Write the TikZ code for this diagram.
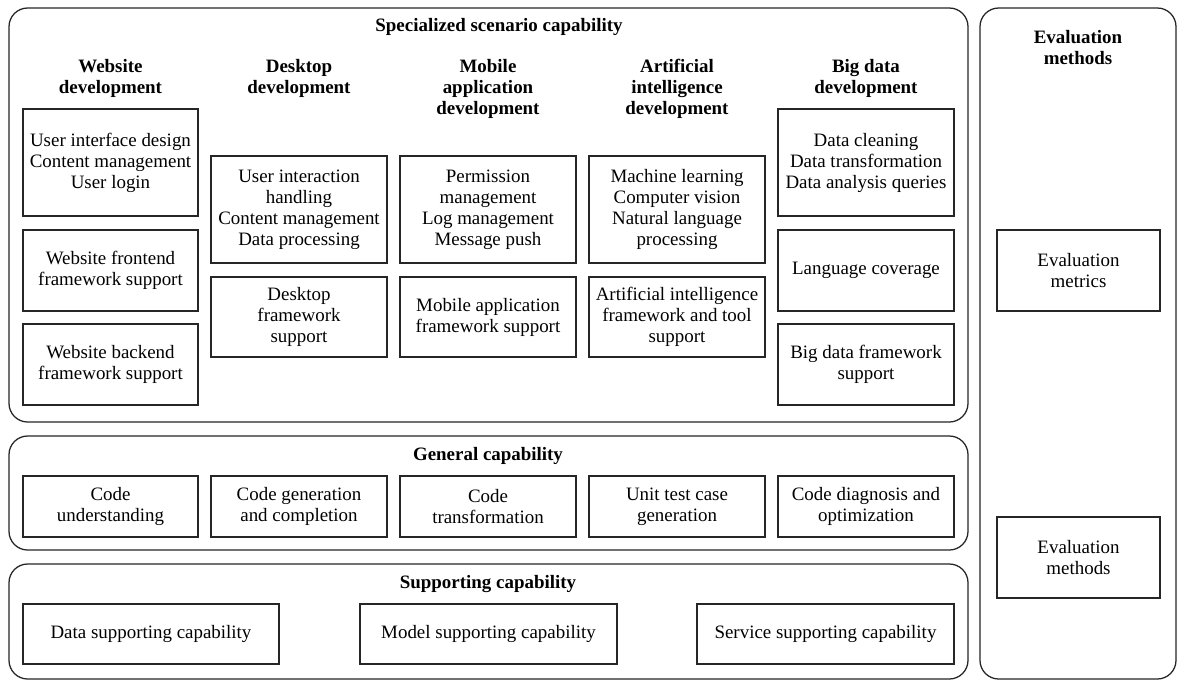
\documentclass[tikz,border=0pt]{standalone}
\usepackage{fontspec}
\setmainfont{Liberation Serif}
\begin{document}
\begin{tikzpicture}[x=0.75pt,y=-0.75pt,
  txt/.style={font=\fontsize{14.2}{15.75}\selectfont, align=center, inner sep=0pt},
  hdr/.style={font=\fontsize{14.2}{15.75}\selectfont\bfseries, align=center, inner sep=0pt},
  bx/.style={draw=black!85, line width=0.95pt, txt},
  colbox/.style={bx, minimum width=132pt},
  grp/.style={draw=black!85, line width=0.95pt, rounded corners=14pt}]
\useasboundingbox[fill=white] (0,0) rectangle (1190,683);
% group frames
\draw[grp] (9,8) rectangle (968,422);
\draw[grp] (9,436) rectangle (968,550);
\draw[grp] (9,564) rectangle (968,679);
\draw[grp] (980,8) rectangle (1176,679);
% titles
\node[hdr] (tSpec) at (499,27) {Specialized scenario capability};
\node[hdr] (tGen) at (488,456) {General capability};
\node[hdr] (tSup) at (488,584) {Supporting capability};
\node[hdr] (tEval) at (1078,47.5) {Evaluation\\methods};
% column headers
\node[hdr] (hWeb) at (110.5,78) {Website\\development};
\node[hdr] (hDesk) at (299,78) {Desktop\\development};
\node[hdr] (hMob) at (488,88.5) {Mobile\\application\\development};
\node[hdr] (hAI) at (677,88.5) {Artificial\\intelligence\\development};
\node[hdr] (hBig) at (866,78) {Big data\\development};
% website
\node[colbox, minimum width=131.25pt, minimum height=80.25pt] (w1) at (110.5,162.5) {User interface design\\Content management\\User login};
\node[colbox, minimum width=131.25pt, minimum height=60.75pt] (w2) at (110.5,270.5) {Website frontend\\framework support};
\node[colbox, minimum width=131.25pt, minimum height=60.75pt] (w3) at (110.5,364.5) {Website backend\\framework support};
% desktop
\node[colbox, minimum height=80.25pt] (d1) at (299,209.5) {User interaction\\handling\\Content management\\Data processing};
\node[colbox, minimum height=60pt] (d2) at (299,317) {Desktop\\framework\\support};
% mobile
\node[colbox, minimum height=80.25pt] (m1) at (488,209.5) {Permission\\management\\Log management\\Message push};
\node[colbox, minimum height=60pt] (m2) at (488,317) {Mobile application\\framework support};
% AI
\node[colbox, minimum height=80.25pt] (a1) at (677,209.5) {Machine learning\\Computer vision\\Natural language\\processing};
\node[colbox, minimum height=60pt] (a2) at (677,317) {Artificial intelligence\\framework and tool\\support};
% big data
\node[colbox, minimum height=80.25pt] (b1) at (866,162.5) {Data cleaning\\Data transformation\\Data analysis queries};
\node[colbox, minimum height=60.75pt] (b2) at (866,270.5) {Language coverage};
\node[colbox, minimum height=60.75pt] (b3) at (866,364.5) {Big data framework\\support};
% general
\node[colbox, minimum width=131.25pt, minimum height=45.75pt] (g1) at (110.5,506.5) {Code\\understanding};
\node[colbox, minimum height=45.75pt] (g2) at (299,506.5) {Code generation\\and completion};
\node[colbox, minimum height=45.75pt] (g3) at (488,506.5) {Code\\transformation};
\node[colbox, minimum height=45.75pt] (g4) at (677,506.5) {Unit test case\\generation};
\node[colbox, minimum height=45.75pt] (g5) at (866,506.5) {Code diagnosis and\\optimization};
% supporting
\node[bx, minimum width=192pt, minimum height=45pt] (s1) at (151,634) {Data supporting capability};
\node[bx, minimum width=192.75pt, minimum height=45pt] (s2) at (488.5,634) {Model supporting capability};
\node[bx, minimum width=192.75pt, minimum height=45pt] (s3) at (825.5,634) {Service supporting capability};
% evaluation
\node[bx, minimum width=122.25pt, minimum height=60.75pt] (e1) at (1078.5,270.5) {Evaluation\\metrics};
\node[bx, minimum width=122.25pt, minimum height=60.75pt] (e2) at (1078.5,557.5) {Evaluation\\methods};
\end{tikzpicture}
\end{document}
